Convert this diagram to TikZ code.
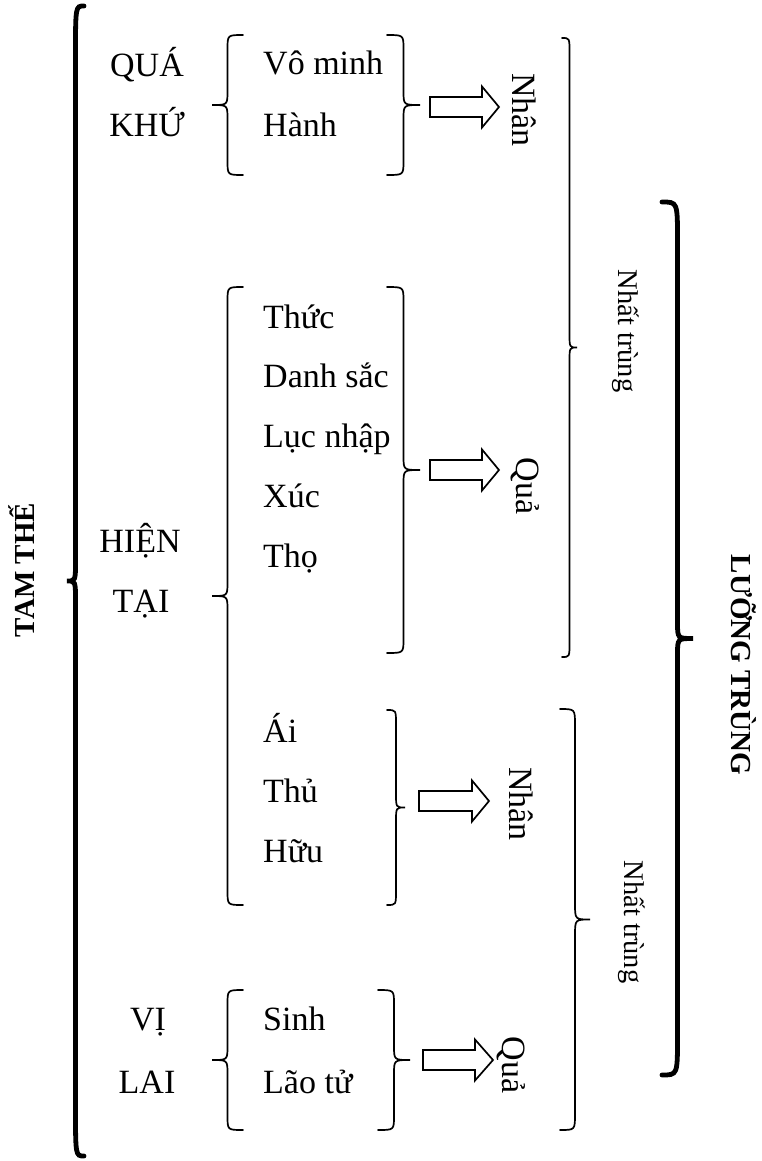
\documentclass[tikz,border=0pt]{standalone}
\usepackage{fontspec}
\setmainfont{Liberation Serif}

% curly brace: style, end x, tip x, top y, bottom y, end radius, middle radius
\newcommand\curlybrace[7]{%
  \pgfmathsetmacro\bxm{(#2+#3)/2}%
  \pgfmathsetmacro\bym{(#4+#5)/2}%
  \draw[#1] (#2,#4) .. controls (\bxm,#4) .. (\bxm,#4+#6)
    -- (\bxm,\bym-#7) .. controls (\bxm,\bym) .. (#3,\bym)
    .. controls (\bxm,\bym) .. (\bxm,\bym+#7)
    -- (\bxm,#5-#6) .. controls (\bxm,#5) .. (#2,#5);%
}
% hollow block arrow: shaft start x, head base x, tip x, centre y
\newcommand\blockarrow[4]{%
  \draw[hollowarrow] (#1,#4-10) -- (#2,#4-10) -- (#2,#4-20.5) -- (#3,#4)
    -- (#2,#4+20.5) -- (#2,#4+10) -- (#1,#4+10) -- cycle;%
}

\begin{document}
\begin{tikzpicture}[x=1pt,y=-1pt,
  thinbrace/.style={line width=1.7pt, line cap=round},
  thickbrace/.style={line width=4.8pt, line cap=round},
  hollowarrow/.style={line width=1.7pt, fill=white, line join=miter},
  lbl/.style={font=\fontsize{34}{40}\selectfont, inner sep=0pt},
  item/.style={lbl, anchor=base west},
  era/.style={lbl, anchor=base},
  vlbl/.style={lbl, rotate=-90},
  nhat/.style={font=\fontsize{28.5}{34}\selectfont, inner sep=0pt, rotate=-90},
  head/.style={font=\bfseries\fontsize{29}{34}\selectfont, inner sep=0pt}]
\useasboundingbox (0,0) rectangle (761,1161);

% three periods
\node[head, rotate=90] (tamthe) at (22,570) {TAM THẾ};
\curlybrace{thickbrace}{84}{67}{6}{1156}{50}{20}

\node[era] (qua) at (147,77) {QUÁ};
\node[era] (khu) at (147,137) {KHỨ};
\node[era] (hien) at (140,552) {HIỆN};
\node[era] (tai) at (141,612) {TẠI};
\node[era] (vi) at (148,1030) {VỊ};
\node[era] (lai) at (147,1093) {LAI};

% opening braces
\curlybrace{thinbrace}{243}{212}{35}{175}{14}{14}
\curlybrace{thinbrace}{243}{212}{287}{905}{14}{14}
\curlybrace{thinbrace}{243}{212}{990}{1130}{14}{14}

% twelve links
\node[item] (vominh) at (263,75) {Vô minh};
\node[item] (hanh) at (263,137) {Hành};
\node[item] (thuc) at (263,328) {Thức};
\node[item] (danhsac) at (263,387) {Danh sắc};
\node[item] (lucnhap) at (263,447) {Lục nhập};
\node[item] (xuc) at (263,507) {Xúc};
\node[item] (tho) at (263,567) {Thọ};
\node[item] (ai) at (263,742) {Ái};
\node[item] (thu) at (263,802) {Thủ};
\node[item] (huu) at (263,862) {Hữu};
\node[item] (sinh) at (263,1030) {Sinh};
\node[item] (laotu) at (263,1093) {Lão tử};

% closing braces
\curlybrace{thinbrace}{387}{420}{35}{175}{14}{14}
\curlybrace{thinbrace}{387}{420}{287}{653}{14}{14}
\curlybrace{thinbrace}{387}{405}{710}{905}{14}{14}
\curlybrace{thinbrace}{378}{410}{990}{1130}{14}{14}

% cause / effect
\blockarrow{430}{482}{499}{107}
\blockarrow{430}{482}{499}{470}
\blockarrow{419}{472}{489}{801}
\blockarrow{423}{475}{493}{1060}

\node[vlbl] (nhan1) at (524,110) {Nhân};
\node[vlbl] (qua1) at (525,486) {Quả};
\node[vlbl] (nhan2) at (521,804) {Nhân};
\node[vlbl] (qua2) at (511,1065) {Quả};

% single layers
\curlybrace{thinbrace}{562}{577}{38}{657}{14}{14}
\curlybrace{thinbrace}{560}{590}{709}{1130}{16}{16}
\node[nhat] (nhat1) at (626,331) {Nhất trùng};
\node[nhat] (nhat2) at (632,922) {Nhất trùng};

% double layer
\curlybrace{thickbrace}{662}{693}{202}{1075}{38}{16}
\node[head, rotate=-90] (luongtrung) at (744,665) {LƯỠNG TRÙNG};
\end{tikzpicture}
\end{document}
